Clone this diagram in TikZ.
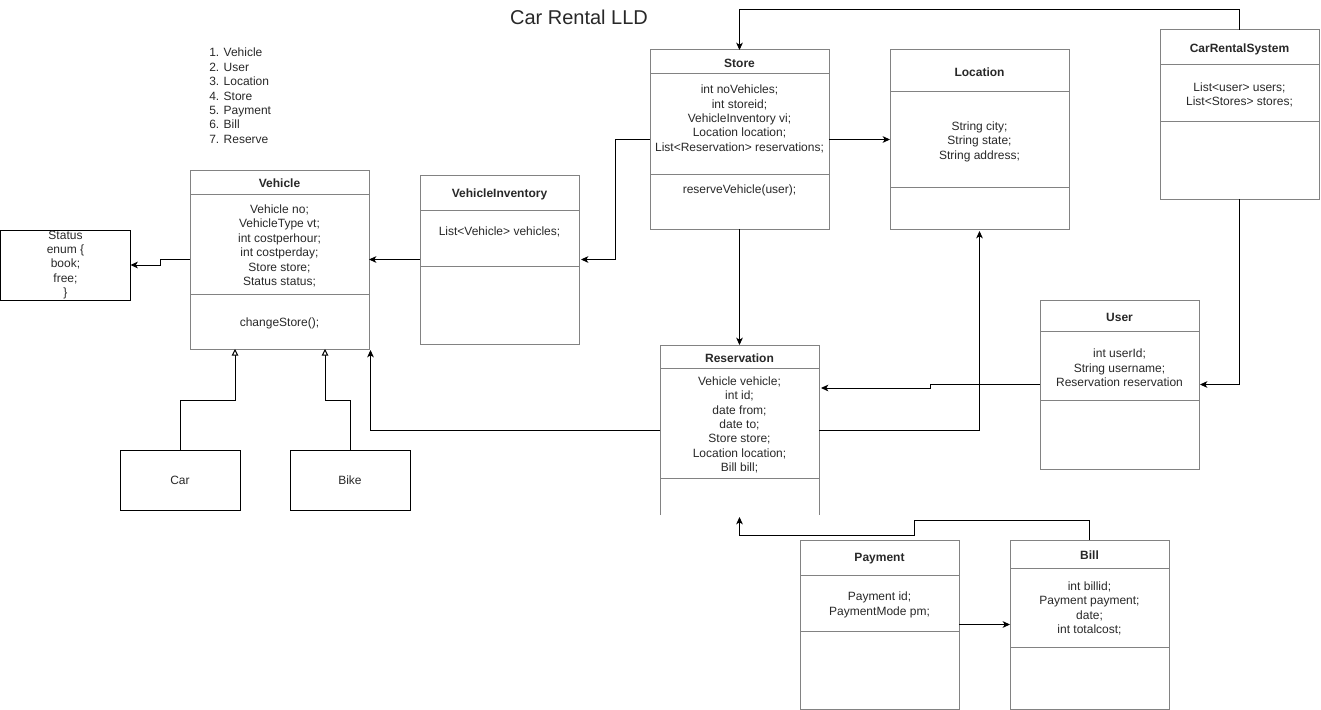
\documentclass[tikz,border=0pt]{standalone}
\usepackage{fontspec}
\setmainfont{Liberation Sans}
\usetikzlibrary{calc,arrows.meta}
\def\px{0.75pt}
\definecolor{boxgray}{RGB}{130,130,130}
\definecolor{txt}{RGB}{40,40,40}
\tikzset{
  classbox/.style={draw=boxgray, line width=0.75pt, inner sep=0pt, outer sep=0pt},
  classline/.style={draw=boxgray, line width=0.75pt},
  plainbox/.style={draw=black, line width=0.75pt, inner sep=0pt, outer sep=0pt, align=center, text=txt, font=\fontsize{9pt}{10.8pt}\selectfont},
  ttl/.style={font=\fontsize{9pt}{10.8pt}\selectfont\bfseries, text=txt, inner sep=0pt, yshift=-1.2pt},
  attr/.style={font=\fontsize{9pt}{10.8pt}\selectfont, text=txt, align=center, inner sep=0pt, yshift=-1.5pt},
  conn/.style={draw=black, line width=0.75pt, -{Stealth[length=5.5pt,width=5pt,inset=1.5pt]}},
  inherit/.style={draw=black, line width=0.75pt, -{Triangle[open,length=5pt,width=5pt,fill=white]}}
}
% #1 name, #2 left, #3 top, #4 width, #5 height, #6 header offset, #7 separator offset, #8 title
\newcommand{\umlclass}[8]{%
  \node[classbox, minimum width=#4*\px, minimum height=#5*\px, anchor=north west] (#1) at (#2,#3) {};
  \draw[classline] ($(#1.north west)+(0,#6)$) -- ($(#1.north east)+(0,#6)$);
  \draw[classline] ($(#1.north west)+(0,#7)$) -- ($(#1.north east)+(0,#7)$);
  \node[ttl] (#1-t) at ($(#1.north)+(0,#6/2)$) {#8};
}
\begin{document}
\begin{tikzpicture}[x=0.75pt,y=-0.75pt]
\useasboundingbox (0,0) rectangle (1321,710);

% title and list
\node[inner sep=0pt, text=txt, font=\fontsize{15pt}{18pt}\selectfont] (title) at (579,17) {Car Rental LLD};
\node[attr, align=left, anchor=north west] (list) at (209,46) {1. Vehicle\\2. User\\3. Location\\4. Store\\5. Payment\\6. Bill\\7. Reserve};

% classes
\umlclass{veh}{190}{170}{179}{179}{24}{124}{Vehicle}
\node[attr] (veh-a) at (279.5,244) {Vehicle no;\\VehicleType vt;\\int costperhour;\\int costperday;\\Store store;\\Status status;};
\node[attr] (veh-m) at (279.5,321.5) {changeStore();};

\umlclass{inv}{420}{175}{159}{169}{35}{91}{VehicleInventory}
\node[attr] (inv-a) at (499.5,230) {List<Vehicle> vehicles;};

\umlclass{store}{650}{50}{179}{179}{24}{124}{Store}
\node[attr] (store-a) at (739.5,117) {int noVehicles;\\int storeid;\\VehicleInventory vi;\\Location location;\\List<Reservation> reservations;};
\node[attr] (store-m) at (739.5,188) {reserveVehicle(user);};

\umlclass{loc}{890}{50}{179}{179}{42}{137}{Location}
\node[attr] (loc-a) at (979.5,139.5) {String city;\\String state;\\String address;};

\umlclass{crs}{1160}{30}{159}{169}{35}{91}{CarRentalSystem}
\node[attr] (crs-a) at (1239.5,93) {List<user> users;\\List<Stores> stores;};

\umlclass{user}{1040}{300}{159}{169}{31}{100}{User}
\node[attr] (user-a) at (1119.5,366) {int userId;\\String username;\\Reservation reservation};

% reservation (no bottom border)
\node[classbox, draw=none, minimum width=159*\px, minimum height=170*\px, anchor=north west] (res) at (660,345) {};
\draw[classline] (res.south west) -- (res.north west) -- (res.north east) -- (res.south east);
\draw[classline] ($(res.north west)+(0,23)$) -- ($(res.north east)+(0,23)$);
\draw[classline] ($(res.north west)+(0,133)$) -- ($(res.north east)+(0,133)$);
\node[ttl] (res-t) at ($(res.north)+(0,11.5)$) {Reservation};
\node[attr] (res-a) at (739.5,423) {Vehicle vehicle;\\int id;\\date from;\\date to;\\Store store;\\Location location;\\Bill bill;};

\umlclass{pay}{800}{540}{159}{169}{35}{91}{Payment}
\node[attr] (pay-a) at (879.5,603) {Payment id;\\PaymentMode pm;};

\umlclass{bill}{1010}{540}{159}{169}{28}{107}{Bill}
\node[attr] (bill-a) at (1089.5,606.5) {int billid;\\Payment payment;\\date;\\int totalcost;};

% plain boxes
\node[plainbox, minimum width=130*\px, minimum height=70*\px, anchor=north west] (status) at (0.5,230) {Status\\enum \{\\book;\\free;\\\}};
\node[plainbox, minimum width=120*\px, minimum height=60*\px, anchor=north west] (car) at (120,450) {Car};
\node[plainbox, minimum width=120*\px, minimum height=60*\px, anchor=north west] (bike) at (290,450) {Bike};

% connectors
\draw[conn] (veh.west) -- ++(-30,0) |- (status.east);
\draw[conn] (inv.west) -- (veh.east);
\draw[conn] (store.west) -- ++(-35,0) |- ($(inv.east)+(2,0)$);
\draw[conn] (store.east) -- (loc.west);
\draw[conn] (store.south) -- (res.north);
\draw[conn] (crs.north) -- ++(0,-20) -| (store.north);
\draw[conn] (crs.south) |- ($(user.east)+(1,0)$);
\draw[conn] (user.west) -- ++(-110,0) -- ++(0,3.5) -- ($(res.east)+(2,-42)$);
\draw[conn] (res.east) -| ($(loc.south)+(0,2)$);
\draw[conn] (res.west) -| ($(veh.south east)+(1.5,1)$);
\draw[conn] (pay.east) -- (bill.west);
\draw[conn] (bill.north) -- ++(0,-20) -- ++(-175,0) -- ++(0,15) -| ($(res.south)+(0,2)$);
\draw[inherit] (car.north) -- ++(0,-50) -| ($(veh.south)+(-44.5,0)$);
\draw[inherit] (bike.north) -- ++(0,-50) -| ($(veh.south)+(45.5,0)$);
\end{tikzpicture}
\end{document}
